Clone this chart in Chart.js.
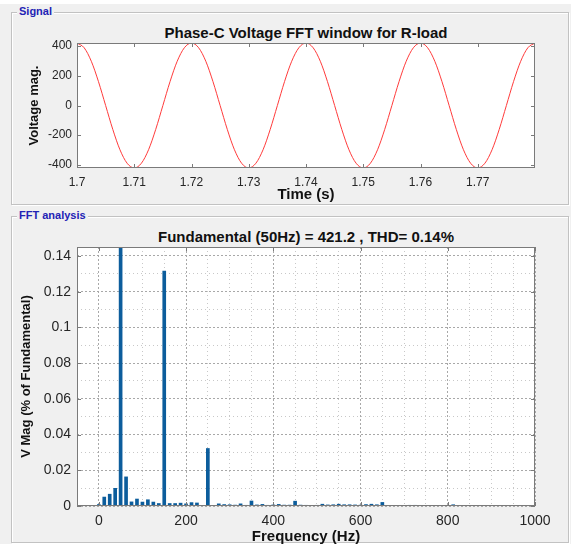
<!DOCTYPE html>
<html>
<head>
<meta charset="utf-8">
<script src="https://cdn.jsdelivr.net/npm/chart.js@4.4.1/dist/chart.umd.min.js"></script>
<style>
  body { margin: 0; width: 571px; height: 544px; overflow: hidden; background: #fff; font-family: "Liberation Sans", Arial, sans-serif; }
  #page { position: absolute; left: 0; top: 4px; width: 571px; height: 540px; background: #f0f0f0; }
  .panel { position: absolute; border: 1px solid #c2c2c2; box-shadow: inset 1px 1px 0 #fff, 1px 1px 0 #fff; }
  .panel span { position: absolute; left: 5px; top: -8px; padding: 0 2px; background: #f0f0f0; color: #2323b5; font: bold 11px "Liberation Sans", Arial, sans-serif; }
  .title { position: absolute; left: 77px; width: 458px; text-align: center; font: bold 15px "Liberation Sans", Arial, sans-serif; color: #111; }
  canvas { position: absolute; }
</style>
</head>
<body>
<div id="page"></div>
<div class="panel" style="left:11px;top:12px;width:556px;height:191px;"><span>Signal</span></div>
<div class="panel" style="left:11px;top:216px;width:556px;height:325px;"><span>FFT analysis</span></div>
<div class="title" style="top:24px;">Phase-C Voltage FFT window for R-load</div>
<div class="title" style="top:228px;">Fundamental (50Hz) = 421.2 , THD= 0.14%</div>
<canvas id="signalChart" width="555" height="188" style="left:12px;top:18px;"></canvas>
<canvas id="fftChart" width="555" height="326" style="left:12px;top:222px;"></canvas>
<script>
// signal window (s) and samples, 16 per 50 Hz cycle
const tStart = 1.7;
const tEnd = 1.78;
const sampleStep = 0.00125;
const voltage = [
  421, 389, 298, 161, 0, -161, -298, -389, -421, -389, -298, -161, 0, 161, 298, 389,
  421, 389, 298, 161, 0, -161, -298, -389, -421, -389, -298, -161, 0, 161, 298, 389,
  421, 389, 298, 161, 0, -161, -298, -389, -421, -389, -298, -161, 0, 161, 298, 389,
  421, 389, 298, 161, 0, -161, -298, -389, -421, -389, -298, -161, 0, 161, 298, 389,
  421
];
const timeTicks = [1.7, 1.71, 1.72, 1.73, 1.74, 1.75, 1.76, 1.77];
const voltTicks = [-400, -200, 0, 200, 400];

// FFT bins, 12.5 Hz apart, % of fundamental
const binHz = 12.5;
const vMag = [
  0.0008, 0.0050, 0.0066, 0.0099, 100, 0.0163, 0.0023, 0.0039, 0.0022, 0.0035,
  0.0022, 0.0014, 0.1315, 0.0014, 0.0014, 0.0016, 0.0012, 0.0019, 0.0017, 0.0002,
  0.0322, 0.0001, 0.0012, 0.0008, 0.0007, 0.0005, 0.0012, 0.0004, 0.0028, 0.0006,
  0.0009, 0.0004, 0.0006, 0.0009, 0.0005, 0.0005, 0.0027, 0.0005, 0.0004, 0.0002,
  0.0004, 0.0010, 0.0006, 0.0007, 0.0010, 0.0007, 0.0007, 0.0006, 0.0005, 0.0008,
  0.0010, 0.0007, 0.0020, 0.0000, 0.0001, 0.0000, 0.0002, 0.0004, 0.0004, 0.0001,
  0.0001, 0.0000, 0.0001, 0.0000, 0.0003, 0.0007, 0.0002, 0.0003, 0.0002, 0.0003,
  0.0002, 0.0003, 0.0002, 0.0001, 0.0000, 0.0001, 0.0003, 0.0003, 0.0002, 0.0001,
  0.0001
];
const freqTicks = [0, 200, 400, 600, 800, 1000];
const magTicks = [0, 0.02, 0.04, 0.06, 0.08, 0.1, 0.12, 0.14];

Chart.defaults.font.family = '"Liberation Sans", Arial, sans-serif';
Chart.defaults.color = "#262626";

// white plot area, inward tick marks and box like MATLAB axes
const axesBox = {
  id: "axesBox",
  beforeDraw(chart) {
    const { ctx, chartArea: a } = chart;
    ctx.save();
    ctx.fillStyle = "#fff";
    ctx.fillRect(a.left, a.top, a.width, a.height);
    ctx.restore();
  },
  afterDraw(chart) {
    const { ctx, chartArea: a, scales } = chart;
    ctx.save();
    ctx.strokeStyle = "#7a7a7a";
    ctx.lineWidth = 1;
    ctx.beginPath();
    scales.x.ticks.forEach(t => {
      if (t.label === "") return;
      const px = Math.round(scales.x.getPixelForValue(t.value)) + 0.5;
      ctx.moveTo(px, a.bottom); ctx.lineTo(px, a.bottom - 4);
      ctx.moveTo(px, a.top); ctx.lineTo(px, a.top + 4);
    });
    scales.y.ticks.forEach(t => {
      if (t.label === "") return;
      const py = Math.round(scales.y.getPixelForValue(t.value)) + 0.5;
      ctx.moveTo(a.left, py); ctx.lineTo(a.left + 4, py);
      ctx.moveTo(a.right, py); ctx.lineTo(a.right - 4, py);
    });
    ctx.stroke();
    ctx.strokeRect(Math.round(a.left) + 0.5, Math.round(a.top) + 0.5, Math.round(a.width) - 1, Math.round(a.height) - 1);
    ctx.restore();
  }
};

const signalPoints = voltage.map((v, i) => ({ x: tStart + i * sampleStep, y: v }));

new Chart(document.getElementById("signalChart"), {
  type: "line",
  data: {
    datasets: [{
      data: signalPoints,
      borderColor: "#ff3b3b",
      borderWidth: 1,
      pointRadius: 0,
      cubicInterpolationMode: "monotone",
      fill: false
    }]
  },
  options: {
    responsive: false,
    animation: false,
    layout: { padding: { left: 0, right: 32, top: 25, bottom: 0 } },
    plugins: { legend: { display: false }, tooltip: { enabled: false } },
    scales: {
      x: {
        type: "linear",
        min: tStart,
        max: tEnd,
        afterBuildTicks: s => { s.ticks = timeTicks.map(v => ({ value: v })); },
        afterFit: s => { s.height = 38; },
        ticks: { font: { size: 12 }, padding: 7, maxRotation: 0, callback: v => String(v) },
        grid: { drawOnChartArea: false, drawTicks: false },
        border: { display: false },
        title: { display: true, text: "Time (s)", color: "#111", font: { size: 15, weight: "bold" }, padding: { top: 0, bottom: 2 } }
      },
      y: {
        min: -421.2,
        max: 421.2,
        afterBuildTicks: s => { s.ticks = voltTicks.map(v => ({ value: v })); },
        afterFit: s => { s.width = 65; },
        ticks: { font: { size: 12 }, padding: 5, callback: v => String(v) },
        grid: { drawOnChartArea: false, drawTicks: false },
        border: { display: false },
        title: { display: true, text: "Voltage mag.", color: "#111", font: { size: 13, weight: "bold" }, padding: { top: 15, bottom: 0 } }
      }
    }
  },
  plugins: [axesBox]
});

// grid positions: labelled ticks plus minor dotted lines
const freqGrid = [];
for (let f = 0; f <= 1000; f += 50) freqGrid.push(f);
const magGrid = [];
for (let k = 0; k <= 14; k++) magGrid.push(k / 100);

const isMajor = (list, v) => list.some(m => Math.abs(m - v) < 1e-9);
const fftBars = vMag.map((v, i) => ({ x: i * binHz, y: v }));

new Chart(document.getElementById("fftChart"), {
  type: "bar",
  data: {
    datasets: [{
      data: fftBars,
      backgroundColor: "#0c5d9c",
      borderWidth: 0,
      barThickness: 3
    }]
  },
  options: {
    responsive: false,
    animation: false,
    layout: { padding: { left: 0, right: 32, top: 25, bottom: 0 } },
    plugins: { legend: { display: false }, tooltip: { enabled: false } },
    scales: {
      x: {
        type: "linear",
        min: -50,
        max: 1000,
        offset: false,
        afterBuildTicks: s => { s.ticks = freqGrid.map(v => ({ value: v })); },
        afterFit: s => { s.height = 42; },
        ticks: {
          font: { size: 14 }, padding: 7, maxRotation: 0, autoSkip: false,
          callback: v => isMajor(freqTicks, v) ? String(v) : ""
        },
        grid: {
          drawTicks: false,
          offset: false,
          color: c => c.tick && isMajor(freqTicks, c.tick.value) ? "#a8a8a8" : "#c8c8c8"
        },
        border: { display: false, dash: c => c.tick && isMajor(freqTicks, c.tick.value) ? [2, 2] : [1, 3] },
        title: { display: true, text: "Frequency (Hz)", color: "#111", font: { size: 15, weight: "bold" }, padding: { top: 0, bottom: 2 } }
      },
      y: {
        min: 0,
        max: 0.145,
        afterBuildTicks: s => { s.ticks = magGrid.map(v => ({ value: v })); },
        afterFit: s => { s.width = 65; },
        ticks: {
          font: { size: 14 }, padding: 6, autoSkip: false,
          callback: v => isMajor(magTicks, v) ? String(+v.toFixed(2)) : ""
        },
        grid: {
          drawTicks: false,
          color: c => c.tick && isMajor(magTicks, c.tick.value) ? "#a8a8a8" : "#c8c8c8"
        },
        border: { display: false, dash: c => c.tick && isMajor(magTicks, c.tick.value) ? [2, 2] : [1, 3] },
        title: { display: true, text: "V Mag (% of Fundamental)", color: "#111", font: { size: 13, weight: "bold" }, padding: { top: 7, bottom: 0 } }
      }
    }
  },
  plugins: [axesBox]
});
</script>
</body>
</html>
